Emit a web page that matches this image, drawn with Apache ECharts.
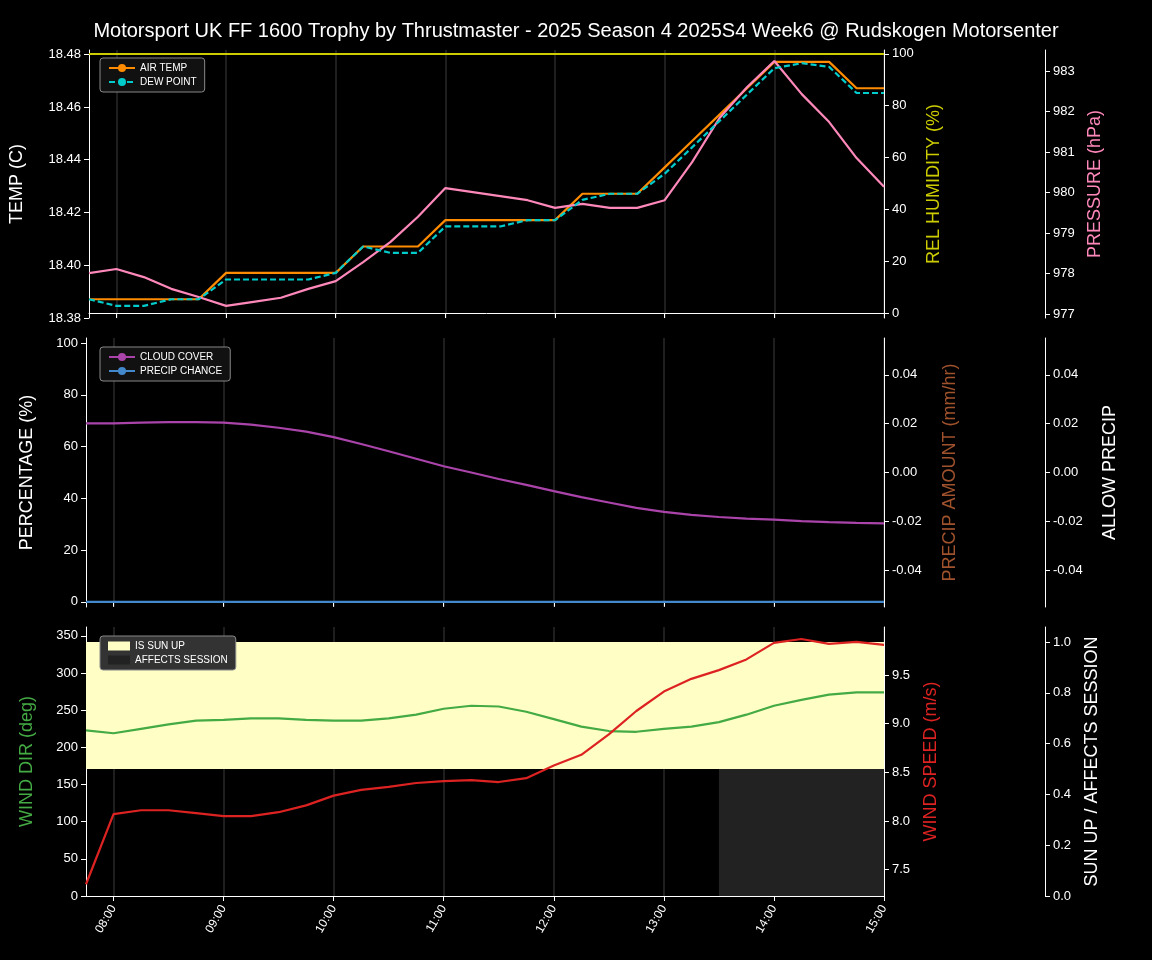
<!DOCTYPE html>
<html><head><meta charset="utf-8">
<script src="https://cdn.jsdelivr.net/npm/echarts@6/dist/echarts.min.js"></script>
<style>html,body{margin:0;background:#000}#c{width:1152px;height:960px}</style>
</head><body><div id="c"></div>
<script>
const times = ["07:45","08:00","08:15","08:30","08:45","09:00","09:15","09:30","09:45","10:00","10:15","10:30","10:45","11:00","11:15","11:30","11:45","12:00","12:15","12:30","12:45","13:00","13:15","13:30","13:45","14:00","14:15","14:30","14:45","15:00"];
const airTemp = [18.39,18.39,18.39,18.39,18.39,18.40,18.40,18.40,18.40,18.40,18.41,18.41,18.41,18.42,18.42,18.42,18.42,18.42,18.43,18.43,18.43,18.44,18.45,18.46,18.47,18.48,18.48,18.48,18.47,18.47];
const dewPoint = [18.39,18.3875,18.3875,18.39,18.39,18.3975,18.3975,18.3975,18.3975,18.40,18.41,18.4076,18.4076,18.4176,18.4176,18.4176,18.42,18.42,18.4277,18.43,18.43,18.4376,18.4476,18.4576,18.4676,18.4776,18.4795,18.4781,18.4682,18.4682];
const humidity = times.map(()=>100);
const pressure = [978.01,978.11,977.91,977.62,977.42,977.2,977.3,977.4,977.62,977.81,978.28,978.78,979.4,980.11,980.01,979.91,979.81,979.62,979.72,979.62,979.62,979.81,980.75,981.84,982.6,983.25,982.43,981.74,980.85,980.14];
const cloudCover = [69,69,69.3,69.5,69.5,69.3,68.5,67.3,65.8,63.7,61,58.2,55.3,52.4,50,47.5,45.2,42.8,40.5,38.4,36.3,34.8,33.6,32.8,32.2,31.8,31.2,30.8,30.5,30.3];
const precipChance = times.map(()=>0);
const windDir = [223,219,225,231,236,237,239,239,237,236,236,239,244,252,256,255,248,238,228,222,221,225,228,234,244,256,264,271,274,274];
const windSpeed = [7.35,8.07,8.11,8.11,8.08,8.05,8.05,8.09,8.16,8.26,8.32,8.35,8.39,8.41,8.42,8.40,8.44,8.57,8.68,8.89,9.13,9.33,9.46,9.55,9.66,9.83,9.87,9.82,9.84,9.81];
const sunUp = times.map(()=>1);
const affectsSession = [0,0,0,0,0,0,0,0,0,0,0,0,0,0,0,0,0,0,0,0,0,0,0,0,1,1,1,1,1,1];

const W='#fff', TXT={color:W,fontSize:13};
const hourIdx=(i)=>times[i].endsWith(':00');
function xAx(g,labels){return {type:'category',gridIndex:g,data:times,boundaryGap:false,
 axisLine:{lineStyle:{color:W}},axisTick:{show:true,interval:hourIdx,lineStyle:{color:W}},
 axisLabel:{show:labels,interval:hourIdx,rotate:60,color:W,fontSize:12,margin:10},
 splitLine:{show:true,interval:hourIdx,lineStyle:{color:'#1e1e1e',width:2}}};}
function yAx(g,o){return Object.assign({type:'value',gridIndex:g,nameLocation:'middle',
 nameTextStyle:{fontSize:18,color:W},axisLine:{show:true,lineStyle:{color:W}},axisTick:{show:true,lineStyle:{color:W}},
 axisLabel:TXT,splitLine:{show:false}},o);}
const half=times.map(()=>0.5);
const option={
 backgroundColor:'#000',animation:false,
 title:{text:'Motorsport UK FF 1600 Trophy by Thrustmaster - 2025 Season 4 2025S4 Week6 @ Rudskogen Motorsenter',left:'center',top:16,textStyle:{color:W,fontSize:20,fontWeight:'normal'}},
 grid:[{left:86,right:268,top:50,height:268},{left:86,right:268,top:338,height:269},{left:86,right:268,top:627,height:269}],
 legend:[
  {data:['AIR TEMP','DEW POINT'],left:100,top:58,orient:'vertical',itemGap:4,itemWidth:26,itemHeight:10,padding:[5,8],borderColor:'#888',borderWidth:1,borderRadius:3,backgroundColor:'#111',textStyle:{color:W,fontSize:10}},
  {data:['CLOUD COVER','PRECIP CHANCE'],left:100,top:347,orient:'vertical',itemGap:4,itemWidth:26,itemHeight:10,padding:[5,8],borderColor:'#888',borderWidth:1,borderRadius:3,backgroundColor:'#111',textStyle:{color:W,fontSize:10}},
  {data:[{name:'IS SUN UP',icon:'rect'},{name:'AFFECTS SESSION',icon:'rect'}],left:100,top:636,orient:'vertical',itemGap:4,itemWidth:22,itemHeight:9,padding:[5,8],borderColor:'#888',borderWidth:1,borderRadius:3,backgroundColor:'#333',textStyle:{color:W,fontSize:10}}
 ],
 xAxis:[xAx(0,false),xAx(1,false),xAx(2,true)],
 yAxis:[
  yAx(0,{min:18.3829,max:18.4845,interval:0.02,name:'TEMP (C)',nameGap:63,axisLabel:{color:W,fontSize:13,formatter:v=>v.toFixed(2)}}),
  yAx(0,{position:'right',min:-1.9,max:101.5,axisLabel:{color:W,fontSize:13,customValues:[0,20,40,60,80,100]},axisTick:{show:true,customValues:[0,20,40,60,80,100],lineStyle:{color:W}},name:'REL HUMIDITY (%)',nameGap:40,nameTextStyle:{fontSize:18,color:'#cccc00'}}),
  yAx(0,{position:'right',offset:161,min:976.9,max:983.52,axisLabel:{color:W,fontSize:13,customValues:[977,978,979,980,981,982,983]},axisTick:{show:true,customValues:[977,978,979,980,981,982,983],lineStyle:{color:W}},name:'PRESSURE (hPa)',nameGap:40,nameTextStyle:{fontSize:18,color:'#ff88bb'}}),
  yAx(1,{min:-2,max:102,interval:20,name:'PERCENTAGE (%)',nameGap:50,axisLabel:{color:W,fontSize:13,customValues:[0,20,40,60,80,100]},axisTick:{show:true,customValues:[0,20,40,60,80,100],lineStyle:{color:W}}}),
  yAx(1,{position:'right',min:-0.0551,max:0.0551,axisLabel:{color:W,fontSize:13,customValues:[-0.04,-0.02,0,0.02,0.04],formatter:v=>v.toFixed(2)},axisTick:{show:true,customValues:[-0.04,-0.02,0,0.02,0.04],lineStyle:{color:W}},name:'PRECIP AMOUNT (mm/hr)',nameGap:57,nameTextStyle:{fontSize:18,color:'#a0522d'}}),
  yAx(1,{position:'right',offset:161,min:-0.0551,max:0.0551,axisLabel:{color:W,fontSize:13,customValues:[-0.04,-0.02,0,0.02,0.04],formatter:v=>v.toFixed(2)},axisTick:{show:true,customValues:[-0.04,-0.02,0,0.02,0.04],lineStyle:{color:W}},name:'ALLOW PRECIP',nameGap:56,nameTextStyle:{fontSize:18,color:W}}),
  yAx(2,{min:0,max:362,name:'WIND DIR (deg)',nameGap:50,nameTextStyle:{fontSize:18,color:'#44aa44'},axisLabel:{color:W,fontSize:13,customValues:[0,50,100,150,200,250,300,350]},axisTick:{show:true,customValues:[0,50,100,150,200,250,300,350],lineStyle:{color:W}}}),
  yAx(2,{position:'right',min:7.229,max:9.993,name:'WIND SPEED (m/s)',nameGap:38,nameTextStyle:{fontSize:18,color:'#dd2222'},axisLabel:{color:W,fontSize:13,customValues:[7.5,8,8.5,9,9.5],formatter:v=>v.toFixed(1)},axisTick:{show:true,customValues:[7.5,8,8.5,9,9.5],lineStyle:{color:W}}}),
  yAx(2,{position:'right',offset:161,min:0,max:1.059,name:'SUN UP / AFFECTS SESSION',nameGap:38,axisLabel:{color:W,fontSize:13,customValues:[0,0.2,0.4,0.6,0.8,1.0],formatter:v=>v.toFixed(1)},axisTick:{show:true,customValues:[0,0.2,0.4,0.6,0.8,1.0],lineStyle:{color:W}}})
 ],
 series:[
  {name:'sunbase',type:'line',xAxisIndex:2,yAxisIndex:8,data:half,stack:'sun',symbol:'none',lineStyle:{width:0},silent:true,z:1},
  {name:'IS SUN UP',type:'line',xAxisIndex:2,yAxisIndex:8,data:sunUp.map(v=>v*0.5),stack:'sun',symbol:'none',lineStyle:{width:0},areaStyle:{color:'#ffffc5',opacity:1},itemStyle:{color:'#ffffc5'},z:1},
  {name:'AFFECTS SESSION',type:'line',step:'start',xAxisIndex:2,yAxisIndex:8,data:affectsSession.map(v=>v*0.5),symbol:'none',lineStyle:{width:0},areaStyle:{color:'#222',opacity:1},itemStyle:{color:'#222'},z:1},
  {name:'REL HUMIDITY',type:'line',xAxisIndex:0,yAxisIndex:1,data:humidity,symbol:'none',lineStyle:{color:'#cccc00',width:2},z:2},
  {name:'AIR TEMP',type:'line',xAxisIndex:0,yAxisIndex:0,data:airTemp,symbol:'none',step:false,lineStyle:{color:'#ff8c00',width:2.2},itemStyle:{color:'#ff8c00'},z:3},
  {name:'DEW POINT',type:'line',xAxisIndex:0,yAxisIndex:0,data:dewPoint,symbol:'none',lineStyle:{color:'#00cccc',width:2.2,type:[6,3]},itemStyle:{color:'#00cccc'},z:4},
  {name:'PRESSURE',type:'line',xAxisIndex:0,yAxisIndex:2,data:pressure,symbol:'none',lineStyle:{color:'#ff88bb',width:2.2},z:3},
  {name:'CLOUD COVER',type:'line',xAxisIndex:1,yAxisIndex:3,data:cloudCover,symbol:'none',lineStyle:{color:'#aa44aa',width:2.2},itemStyle:{color:'#aa44aa'}},
  {name:'PRECIP CHANCE',type:'line',xAxisIndex:1,yAxisIndex:3,data:precipChance,symbol:'none',lineStyle:{color:'#4488cc',width:2.2},itemStyle:{color:'#4488cc'}},
  {name:'WIND DIR',type:'line',xAxisIndex:2,yAxisIndex:6,data:windDir,symbol:'none',lineStyle:{color:'#44aa44',width:2.2},z:3},
  {name:'WIND SPEED',type:'line',xAxisIndex:2,yAxisIndex:7,data:windSpeed,symbol:'none',lineStyle:{color:'#dd2222',width:2.2},z:3}
 ]
};
echarts.init(document.getElementById('c')).setOption(option);
</script></body></html>
